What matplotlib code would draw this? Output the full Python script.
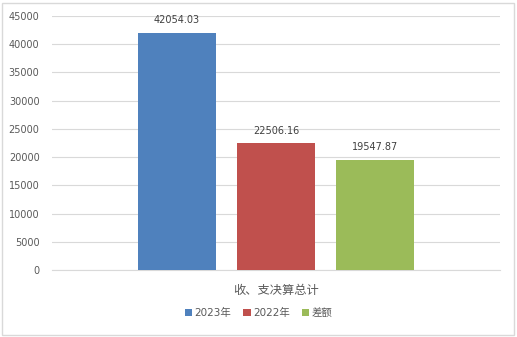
import matplotlib
matplotlib.use("Agg")
import matplotlib.pyplot as plt
from matplotlib.patches import Rectangle

plt.rcParams["font.family"] = ["DejaVu Sans", "Noto Sans CJK SC"]

category = "收、支决算总计"
series_names = ["2023年", "2022年", "差额"]
series_values = [42054.03, 22506.16, 19547.87]
colors = ["#4F81BD", "#C0504D", "#9BBB59"]
y_ticks = [0, 5000, 10000, 15000, 20000, 25000, 30000, 35000, 40000, 45000]

W, H = 517, 337
fig = plt.figure(figsize=(W / 100, H / 100), dpi=100)
fig.patch.set_facecolor("white")
# outer chart frame
fig.add_artist(Rectangle((2 / W, 2 / H), 512 / W, 332 / H, transform=fig.transFigure,
                         fill=False, edgecolor="#D9D9D9", linewidth=1))

ax = fig.add_axes([52 / W, 67 / H, 448 / W, 254 / H])
step = 99 / 448
width = 78 / 448
offsets = [-step, 0, step]
for name, v, c, off in zip(series_names, series_values, colors, offsets):
    ax.bar(off, v, width=width, color=c, label=name, zorder=3)
    ax.text(off, v + 1300, f"{v:.2f}", ha="center", va="bottom", fontsize=7, color="#404040")

ax.set_xlim(-0.5, 0.5)
ax.set_ylim(0, 45000)
ax.set_yticks(y_ticks)
ax.set_yticklabels([str(t) for t in y_ticks], fontsize=7, color="#595959")
ax.set_xticks([0])
ax.set_xticklabels([category], fontsize=8.8, color="#595959")
ax.tick_params(axis="both", length=0)
ax.tick_params(axis="x", pad=10)
ax.tick_params(axis="y", pad=9)
ax.grid(axis="y", color="#D9D9D9", linewidth=0.8, zorder=0)
for s in ["top", "right", "left"]:
    ax.spines[s].set_visible(False)
ax.spines["bottom"].set_color("#D9D9D9")

handles, labels = ax.get_legend_handles_labels()
fig.legend(handles, labels, loc="center", bbox_to_anchor=(0.5, 1 - 313 / H), ncol=3,
           frameon=False, fontsize=7.5, handlelength=0.7, handleheight=0.7,
           handletextpad=0.2, columnspacing=1.2, labelcolor="#595959")

fig.savefig("out.png", dpi=100)
